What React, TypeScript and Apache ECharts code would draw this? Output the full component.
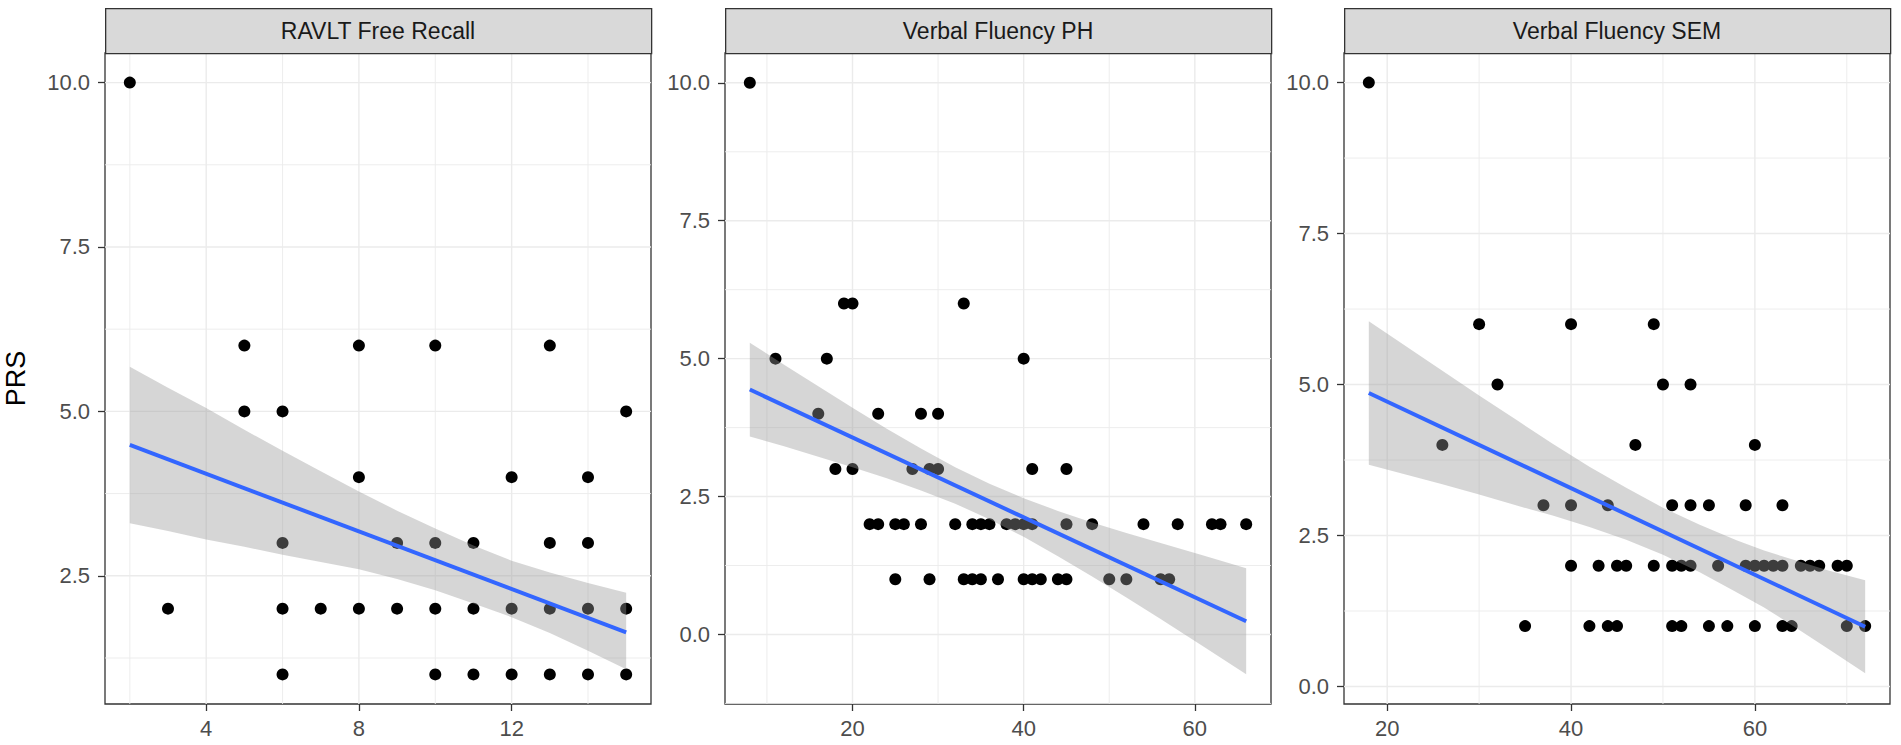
import React, { useEffect, useRef } from "react";
import * as echarts from "echarts";

// ---------- data ----------
const panelTitles = ["RAVLT Free Recall", "Verbal Fluency PH", "Verbal Fluency SEM"];
const yTitle = "PRS";

const ravltPoints: [number, number][] = [
  [2, 10],
  [5, 6], [8, 6], [10, 6], [13, 6],
  [5, 5], [6, 5], [15, 5],
  [8, 4], [12, 4], [14, 4],
  [6, 3], [9, 3], [10, 3], [11, 3], [13, 3], [14, 3],
  [3, 2], [6, 2], [7, 2], [8, 2], [9, 2], [10, 2], [11, 2], [12, 2], [13, 2], [14, 2], [15, 2],
  [6, 1], [10, 1], [11, 1], [12, 1], [13, 1], [14, 1], [15, 1],
];
const phPoints: [number, number][] = [
  [8, 10],
  [19, 6], [20, 6], [33, 6],
  [11, 5], [17, 5], [40, 5],
  [16, 4], [23, 4], [28, 4], [30, 4],
  [18, 3], [20, 3], [27, 3], [29, 3], [30, 3], [41, 3], [45, 3],
  [22, 2], [23, 2], [25, 2], [26, 2], [28, 2], [32, 2], [34, 2], [35, 2], [36, 2], [38, 2],
  [39, 2], [40, 2], [41, 2], [45, 2], [48, 2], [54, 2], [58, 2], [62, 2], [63, 2], [66, 2],
  [25, 1], [29, 1], [33, 1], [34, 1], [35, 1], [37, 1], [40, 1], [41, 1], [42, 1], [44, 1],
  [45, 1], [50, 1], [52, 1], [56, 1], [57, 1],
];
const semPoints: [number, number][] = [
  [18, 10],
  [30, 6], [40, 6], [49, 6],
  [32, 5], [50, 5], [53, 5],
  [26, 4], [47, 4], [60, 4],
  [37, 3], [40, 3], [44, 3], [51, 3], [53, 3], [55, 3], [59, 3], [63, 3],
  [40, 2], [43, 2], [45, 2], [46, 2], [49, 2], [51, 2], [52, 2], [53, 2], [56, 2], [59, 2],
  [60, 2], [61, 2], [62, 2], [63, 2], [65, 2], [66, 2], [67, 2], [69, 2], [70, 2],
  [35, 1], [42, 1], [44, 1], [45, 1], [51, 1], [52, 1], [55, 1], [57, 1], [60, 1], [63, 1],
  [64, 1], [70, 1], [72, 1],
];

// fitted lines
const ravltFitX = [2, 15];
const ravltFitY = [4.49, 1.64];
const phFitX = [8, 66];
const phFitY = [4.44, 0.24];
const semFitX = [18, 72];
const semFitY = [4.86, 0.99];

// confidence bands
const ravltBandX = [2, 3, 4, 5, 6, 7, 8, 9, 10, 11, 12, 13, 14, 15];
const ravltBandLo = [3.3, 3.18, 3.05, 2.94, 2.82, 2.71, 2.6, 2.45, 2.28, 2.08, 1.87, 1.63, 1.36, 1.08];
const ravltBandHi = [5.68, 5.36, 5.05, 4.72, 4.4, 4.09, 3.78, 3.49, 3.22, 2.96, 2.73, 2.55, 2.39, 2.24];
const phBandX = [8, 12, 16, 20, 24, 28, 32, 36, 40, 44, 48, 52, 56, 61, 66];
const phBandLo = [3.59, 3.41, 3.22, 3.03, 2.83, 2.61, 2.37, 2.09, 1.77, 1.42, 1.05, 0.67, 0.28, -0.22, -0.72];
const phBandHi = [5.29, 4.89, 4.5, 4.11, 3.73, 3.37, 3.03, 2.73, 2.47, 2.24, 2.03, 1.84, 1.66, 1.43, 1.2];
const semBandX = [18, 22, 26, 30, 34, 38, 42, 46, 50, 54, 58, 61, 65, 68, 72];
const semBandLo = [3.67, 3.51, 3.35, 3.18, 3.0, 2.83, 2.64, 2.43, 2.18, 1.89, 1.56, 1.31, 0.92, 0.62, 0.22];
const semBandHi = [6.05, 5.64, 5.23, 4.82, 4.42, 4.02, 3.64, 3.29, 2.96, 2.68, 2.42, 2.25, 2.06, 1.92, 1.76];

// axis ticks
const ravltXTicks = [4, 8, 12];
const ravltXMinor = [2, 6, 10, 14];
const phXTicks = [20, 40, 60];
const phXMinor = [10, 30, 50];
const semXTicks = [20, 40, 60];
const semXMinor = [30, 50, 70];
const ravltYTicks = [2.5, 5, 7.5, 10];
const ravltYMinor = [1.25, 3.75, 6.25, 8.75];
const phYTicks = [0, 2.5, 5, 7.5, 10];
const phYMinor = [-1.25, 1.25, 3.75, 6.25, 8.75];
const semYTicks = [0, 2.5, 5, 7.5, 10];
const semYMinor = [1.25, 3.75, 6.25, 8.75];

// axis limits
const xLimits: [number, number][] = [[1.35, 15.65], [5.1, 68.9], [15.3, 74.7]];
const yLimits: [number, number][] = [[0.55, 10.45], [-1.26, 10.54], [-0.29, 10.49]];

const FONT = "'Liberation Sans', Arial, Helvetica, sans-serif";

const panels = [
  { points: ravltPoints, fitX: ravltFitX, fitY: ravltFitY, bX: ravltBandX, bLo: ravltBandLo, bHi: ravltBandHi,
    xT: ravltXTicks, xM: ravltXMinor, yT: ravltYTicks, yM: ravltYMinor },
  { points: phPoints, fitX: phFitX, fitY: phFitY, bX: phBandX, bLo: phBandLo, bHi: phBandHi,
    xT: phXTicks, xM: phXMinor, yT: phYTicks, yM: phYMinor },
  { points: semPoints, fitX: semFitX, fitY: semFitY, bX: semBandX, bLo: semBandLo, bHi: semBandHi,
    xT: semXTicks, xM: semXMinor, yT: semYTicks, yM: semYMinor },
];

const gridLefts = [105, 725, 1344];
const gridWidth = 546;
const gridTop = 53;
const gridHeight = 651;
const stripTop = 8;
const stripHeight = 45;

function buildOption() {
  const grids: any[] = [];
  const xAxes: any[] = [];
  const yAxes: any[] = [];
  const series: any[] = [];
  const graphics: any[] = [];

  panels.forEach((p, i) => {
    grids.push({
      left: gridLefts[i],
      top: gridTop,
      width: gridWidth,
      height: gridHeight,
      show: true,
      borderColor: "#333333",
      borderWidth: 1.3,
      backgroundColor: "#ffffff",
      containLabel: false,
    });
    xAxes.push({
      type: "value",
      gridIndex: i,
      min: xLimits[i][0],
      max: xLimits[i][1],
      axisLine: { show: false, onZero: false },
      splitLine: { show: false },
      axisTick: { show: true, customValues: p.xT, length: 7, lineStyle: { color: "#333333", width: 1.3 } },
      axisLabel: {
        customValues: p.xT,
        color: "#4D4D4D",
        fontSize: 22,
        fontFamily: FONT,
        margin: 13,
        formatter: (v: number) => String(v),
      },
    });
    yAxes.push({
      type: "value",
      gridIndex: i,
      min: yLimits[i][0],
      max: yLimits[i][1],
      name: i === 0 ? yTitle : "",
      nameLocation: "middle",
      nameRotate: 90,
      nameGap: 76,
      nameTextStyle: { fontSize: 27, color: "#000000", fontFamily: FONT },
      axisLine: { show: false, onZero: false },
      splitLine: { show: false },
      axisTick: { show: true, customValues: p.yT, length: 7, lineStyle: { color: "#333333", width: 1.3 } },
      axisLabel: {
        customValues: p.yT,
        color: "#4D4D4D",
        fontSize: 22,
        fontFamily: FONT,
        margin: 15,
        formatter: (v: number) => v.toFixed(1),
      },
    });

    // grid lines (vertical)
    const vLines = [
      ...p.xM.map((v) => [v, 0, 0.9]),
      ...p.xT.map((v) => [v, 0, 1.4]),
    ];
    series.push({
      type: "custom",
      xAxisIndex: i,
      yAxisIndex: i,
      silent: true,
      z: 1,
      data: vLines,
      encode: { x: 0, y: 1 },
      renderItem: (params: any, api: any) => {
        const cs = params.coordSys;
        const x = api.coord([api.value(0), yLimits[i][0]])[0];
        return {
          type: "line",
          shape: { x1: x, y1: cs.y, x2: x, y2: cs.y + cs.height },
          style: { stroke: "#EBEBEB", lineWidth: api.value(2) },
        };
      },
    });
    // grid lines (horizontal)
    const hLines = [
      ...p.yM.map((v) => [xLimits[i][0], v, 0.9]),
      ...p.yT.map((v) => [xLimits[i][0], v, 1.4]),
    ];
    series.push({
      type: "custom",
      xAxisIndex: i,
      yAxisIndex: i,
      silent: true,
      z: 1,
      data: hLines,
      encode: { x: 0, y: 1 },
      renderItem: (params: any, api: any) => {
        const cs = params.coordSys;
        const y = api.coord([xLimits[i][0], api.value(1)])[1];
        return {
          type: "line",
          shape: { x1: cs.x, y1: y, x2: cs.x + cs.width, y2: y },
          style: { stroke: "#EBEBEB", lineWidth: api.value(2) },
        };
      },
    });

    // points
    series.push({
      type: "scatter",
      xAxisIndex: i,
      yAxisIndex: i,
      z: 2,
      symbol: "circle",
      symbolSize: 12,
      itemStyle: { color: "#000000", opacity: 1 },
      data: p.points,
    });

    // confidence band
    const bandData = p.bX.map((x, k) => [x, p.bLo[k], p.bHi[k]]);
    series.push({
      type: "custom",
      xAxisIndex: i,
      yAxisIndex: i,
      silent: true,
      z: 3,
      data: bandData,
      encode: { x: 0, y: [1, 2] },
      renderItem: (params: any, api: any) => {
        if (params.dataIndex !== 0) return null;
        const pts: number[][] = [];
        for (let k = 0; k < p.bX.length; k++) pts.push(api.coord([p.bX[k], p.bHi[k]]));
        for (let k = p.bX.length - 1; k >= 0; k--) pts.push(api.coord([p.bX[k], p.bLo[k]]));
        return {
          type: "polygon",
          shape: { points: pts },
          style: { fill: "rgba(153,153,153,0.4)" },
        };
      },
    });

    // fitted line
    series.push({
      type: "line",
      xAxisIndex: i,
      yAxisIndex: i,
      z: 4,
      symbol: "none",
      silent: true,
      lineStyle: { color: "#3366FF", width: 4 },
      data: p.fitX.map((x, k) => [x, p.fitY[k]]),
    });

    // strip
    graphics.push({
      type: "rect",
      left: gridLefts[i],
      top: stripTop,
      shape: { width: gridWidth, height: stripHeight },
      style: { fill: "#D9D9D9", stroke: "#333333", lineWidth: 1.3 },
      z: 10,
    });
    graphics.push({
      type: "text",
      x: gridLefts[i] + gridWidth / 2,
      y: stripTop + stripHeight / 2,
      style: {
        text: panelTitles[i],
        fill: "#1A1A1A",
        fontSize: 23,
        fontFamily: FONT,
        align: "center",
        verticalAlign: "middle",
      },
      z: 11,
    });
  });

  return {
    animation: false,
    backgroundColor: "#ffffff",
    grid: grids,
    xAxis: xAxes,
    yAxis: yAxes,
    series,
    graphic: graphics,
  };
}

export default function App() {
  const ref = useRef<HTMLDivElement>(null);
  useEffect(() => {
    if (!ref.current) return;
    const chart = echarts.init(ref.current, null, { renderer: "svg" });
    chart.setOption(buildOption() as any);
    return () => chart.dispose();
  }, []);
  return (
    <div
      ref={ref}
      style={{ position: "fixed", left: 0, top: 0, width: 1901, height: 745, background: "#ffffff" }}
    />
  );
}
